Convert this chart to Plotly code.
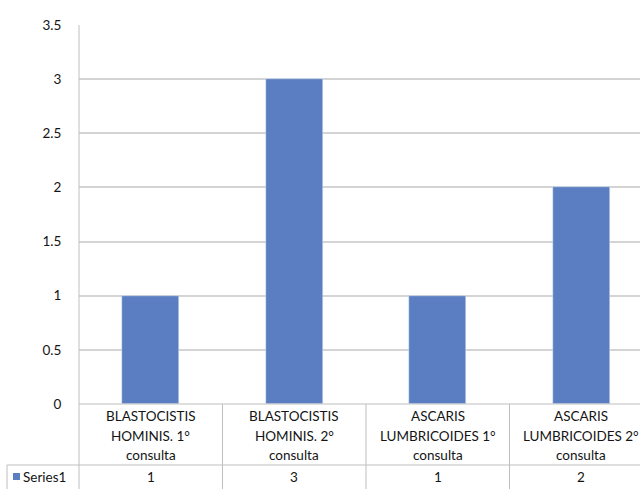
import plotly.graph_objects as go

categories = [
    ["BLASTOCISTIS", "HOMINIS. 1°", "consulta"],
    ["BLASTOCISTIS", "HOMINIS. 2°", "consulta"],
    ["ASCARIS", "LUMBRICOIDES 1°", "consulta"],
    ["ASCARIS", "LUMBRICOIDES 2°", "consulta"],
]
series_name = "Series1"
values = [1, 3, 1, 2]
y_ticks = [0, 0.5, 1, 1.5, 2, 2.5, 3, 3.5]
y_tick_text = ["0", "0.5", "1", "1.5", "2", "2.5", "3", "3.5"]

W, H = 640, 489
L, R, T = 79, 0, 25
B = H - 404
BAR_COLOR = "#5A7EC1"
TEXT = "#141414"
LINE = "#BFBFBF"
FONT = "Lato"
FS = 13.5

xs = list(range(len(values)))
x_lo = -0.5
x_hi = x_lo + (W - L - R) / 143.5

fig = go.Figure()
fig.add_trace(go.Bar(x=xs, y=values, width=0.40, marker_color=BAR_COLOR,
                     name=series_name, showlegend=False))

plot_h = H - T - B
plot_w = W - L - R

def py(ypix):  # screen pixel -> paper y
    return (H - B - ypix) / plot_h

def pxs(xpix):  # screen pixel -> paper x
    return (xpix - L) / plot_w

def px(v):
    return (v - x_lo) / (x_hi - x_lo)

shapes = []
for v in [-0.5, 0.5, 1.5, 2.5, 3.5]:
    xp = px(v)
    if xp <= 1.0001:
        shapes.append(dict(type="line", xref="paper", yref="paper", x0=xp, x1=xp,
                           y0=py(495), y1=(py(404) if v != -0.5 else 1.0),
                           line=dict(color=LINE, width=1)))
shapes.append(dict(type="line", xref="paper", yref="paper", x0=0, x1=1.0, y0=0, y1=0,
                   line=dict(color=LINE, width=1)))
shapes.append(dict(type="line", xref="paper", yref="paper", x0=pxs(7), x1=1.0,
                   y0=py(465), y1=py(465), line=dict(color=LINE, width=1)))
shapes.append(dict(type="line", xref="paper", yref="paper", x0=pxs(7), x1=pxs(7),
                   y0=py(465), y1=py(495), line=dict(color=LINE, width=1)))
shapes.append(dict(type="rect", xref="paper", yref="paper",
                   x0=pxs(13), x1=pxs(20), y0=py(480), y1=py(473),
                   fillcolor=BAR_COLOR, line=dict(width=0)))

annotations = []
line_y = [416, 435.5, 455]
for i, lines in enumerate(categories):
    for j, t in enumerate(lines):
        annotations.append(dict(x=xs[i], y=py(line_y[j]), xref="x", yref="paper",
                                text=t, showarrow=False, yanchor="middle", xanchor="center",
                                font=dict(family=FONT, size=FS, color=TEXT)))
    annotations.append(dict(x=xs[i], y=py(477), xref="x", yref="paper",
                            text=str(values[i]), showarrow=False, yanchor="middle",
                            xanchor="center", font=dict(family=FONT, size=FS, color=TEXT)))
annotations.append(dict(x=pxs(21), y=py(477), xref="paper", yref="paper",
                        text=series_name, showarrow=False, yanchor="middle", xanchor="left",
                        font=dict(family=FONT, size=FS, color=TEXT)))

fig.update_layout(
    width=W, height=H,
    margin=dict(l=L, r=R, t=T, b=B, pad=0),
    paper_bgcolor="white", plot_bgcolor="white",
    bargap=0,
    xaxis=dict(range=[x_lo, x_hi], showticklabels=False, showgrid=False,
               zeroline=False, showline=False, ticks=""),
    yaxis=dict(range=[0, 3.5], tickvals=y_ticks, ticktext=y_tick_text,
               showgrid=True, gridcolor="#D4D4D4", gridwidth=1.5,
               zeroline=False, showline=False, ticks="outside", ticklen=14,
               tickcolor="rgba(0,0,0,0)",
               tickfont=dict(family=FONT, size=FS, color=TEXT)),
    shapes=shapes,
    annotations=annotations,
)

fig.write_html(
    "out.html",
    config={"displayModeBar": False},
    post_script=(
        "document.body.style.margin='0';"
        "document.documentElement.style.overflow='hidden';"
        "document.body.style.overflow='hidden';"
    ),
)
